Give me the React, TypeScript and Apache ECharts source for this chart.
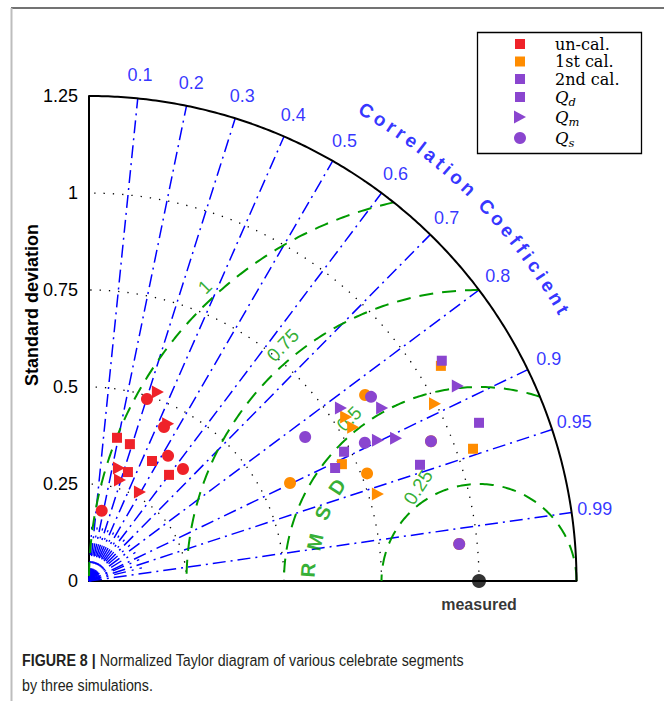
import React, { useEffect, useRef } from "react";
import * as echarts from "echarts";

const W = 664;
const H = 701;

// ---- data: [normalized standard deviation, correlation coefficient] ----
const unCalQd = [[0.376, 0.191], [0.368, 0.285], [0.349, 0.463], [0.342, 0.6], [0.298, 0.335]];
const unCalQm = [[0.518, 0.341], [0.453, 0.448], [0.301, 0.255], [0.272, 0.292], [0.264, 0.495]];
const unCalQs = [[0.184, 0.177], [0.492, 0.302], [0.441, 0.436], [0.381, 0.532], [0.376, 0.641]];
const cal1Qd = [[1.059, 0.852], [1.042, 0.945], [0.715, 0.907]];
const cal1Qm = [[0.998, 0.889], [0.783, 0.842], [0.785, 0.863], [0.774, 0.957]];
const cal1Qs = [[0.855, 0.828], [0.765, 0.932], [0.574, 0.898], [0.948, 0.925], [0.954, 0.995]];
const cal2Qd = [[1.068, 0.847], [1.08, 0.926], [0.734, 0.891], [0.695, 0.908], [0.9, 0.943]];
const cal2Qm = [[1.071, 0.883], [0.785, 0.823], [0.874, 0.86], [0.825, 0.898], [0.869, 0.906]];
const cal2Qs = [[0.865, 0.836], [0.667, 0.831], [0.792, 0.893], [0.948, 0.925], [0.954, 0.995]];
const measured = [1.0, 1.0];

const corrTicks = [0.1, 0.2, 0.3, 0.4, 0.5, 0.6, 0.7, 0.8, 0.9, 0.95, 0.99];
const corrMinor = [0.05, 0.15, 0.25, 0.35, 0.45, 0.55, 0.65, 0.75, 0.85, 0.92, 0.97];
const stdArcs = [0.25, 0.5, 0.75, 1.0];
const rmsdArcs = [0.25, 0.5, 0.75, 1.0];
const rmsdLabels = ["0.25", "0.5", "0.75", "1"];
const legendNames = ["un-cal.", "1st cal.", "2nd cal.", "Q|d", "Q|m", "Q|s"];
const corrTitle = "Correlation Coefficient";
const stdMax = 1.25;

const RED = "#ef2229";
const ORANGE = "#ff8c00";
const PURPLE = "#8a45cf";
const BLUE = "#0000ff";
const GREEN = "#009a00";
const TRI = "path://M0,0L10,6L0,12Z";
const SANS = '"Liberation Sans", Arial, sans-serif';

const toXY = (p: number[]) => [p[0] * p[1], p[0] * Math.sqrt(Math.max(0, 1 - p[1] * p[1]))];

function arc(cx: number, cy: number, r: number, a0: number, a1: number, n = 160) {
  const pts: number[][] = [];
  for (let i = 0; i <= n; i++) {
    const a = a0 + ((a1 - a0) * i) / n;
    pts.push([cx + r * Math.cos(a), cy + r * Math.sin(a)]);
  }
  return pts;
}

export default function App() {
  const ref = useRef<HTMLDivElement>(null);
  useEffect(() => {
    const chart = echarts.init(ref.current!, undefined, { renderer: "svg", width: W, height: H });
    const series: any[] = [];
    const lineBase = { type: "line", showSymbol: false, symbol: "none", silent: true, clip: false, animation: false };

    // std dotted arcs
    stdArcs.forEach((r) => {
      series.push({ ...lineBase, z: 1, data: arc(0, 0, r, 0, Math.PI / 2), lineStyle: { color: "#000", width: 1.3, type: [1.3, 8] } });
    });
    // correlation lines
    corrTicks.forEach((c) => {
      series.push({ ...lineBase, z: 2, data: [[0, 0], toXY([stdMax, c])], lineStyle: { color: BLUE, width: 1.5, type: [13, 5, 2, 5] } });
    });
    corrMinor.forEach((c) => {
      series.push({ ...lineBase, z: 2, data: [[0, 0], toXY([0.14, c])], lineStyle: { color: BLUE, width: 1.3, type: [12, 6, 2, 6] } });
    });
    // RMSD arcs centred on measured point
    rmsdArcs.forEach((r) => {
      const c = (stdMax * stdMax - 1 - r * r) / (2 * r);
      const a0 = c >= 1 ? 0 : Math.acos(Math.max(-1, c));
      series.push({ ...lineBase, z: 3, data: arc(1, 0, r, a0, Math.PI), lineStyle: { color: GREEN, width: 2, type: [14, 9] } });
    });
    // outer arc
    series.push({ ...lineBase, z: 4, data: arc(0, 0, stdMax, 0, Math.PI / 2, 240), lineStyle: { color: "#000", width: 2 } });

    const mk = (name: string, d: number[][], color: string, symbol: string, size: any) => ({
      type: "scatter",
      name,
      z: 10,
      clip: false,
      symbol,
      symbolSize: size,
      itemStyle: { color, opacity: 1 },
      data: d.map(toXY),
    });
    series.push(mk("un-cal Qd", unCalQd, RED, "rect", 10));
    series.push(mk("un-cal Qm", unCalQm, RED, TRI, [12, 13]));
    series.push(mk("un-cal Qs", unCalQs, RED, "circle", 12));
    series.push(mk("1st Qd", cal1Qd, ORANGE, "rect", 10));
    series.push(mk("1st Qm", cal1Qm, ORANGE, TRI, [12, 13]));
    series.push(mk("1st Qs", cal1Qs, ORANGE, "circle", 12));
    series.push(mk("2nd Qd", cal2Qd, PURPLE, "rect", 10));
    series.push(mk("2nd Qm", cal2Qm, PURPLE, TRI, [12, 13]));
    series.push(mk("2nd Qs", cal2Qs, PURPLE, "circle", 12));

    // measured
    series.push({
      type: "scatter",
      z: 12,
      clip: false,
      symbol: "circle",
      symbolSize: 14,
      itemStyle: { color: "#000" },
      label: { show: true, position: "bottom", distance: 8, formatter: "measured", color: "#000", fontSize: 16, fontWeight: "bold", fontFamily: SANS },
      data: [toXY(measured)],
    });

    // correlation tick labels
    series.push({
      type: "scatter",
      z: 6,
      clip: false,
      silent: true,
      symbolSize: 0,
      label: { show: true, position: "inside", formatter: (p: any) => p.name, color: BLUE, fontSize: 18, fontFamily: SANS },
      data: corrTicks.map((c) => ({ name: String(c), value: toXY([1.31, c]) })),
    });

    // RMSD labels
    const rmsdLabelPos = [
      [0.844, 0.242, 57],
      [0.667, 0.418, 45],
      [0.497, 0.608, 46],
      [0.297, 0.758, 45],
    ];
    series.push({
      type: "scatter",
      z: 6,
      clip: false,
      silent: true,
      symbolSize: 0,
      label: { show: true, position: "inside", formatter: (p: any) => p.name, color: GREEN, fontSize: 19, fontFamily: SANS },
      data: rmsdLabels.map((t, i) => ({ name: t, value: [rmsdLabelPos[i][0], rmsdLabelPos[i][1]], label: { rotate: rmsdLabelPos[i][2] } })),
    });
    // R M S D letters
    const rmsdLetters = [
      ["R", 0.5615, 0.0284, 86],
      ["M", 0.5795, 0.1005, 77],
      ["S", 0.6, 0.1753, 67],
      ["D", 0.636, 0.2423, 57],
    ];
    series.push({
      type: "scatter",
      z: 6,
      clip: false,
      silent: true,
      symbolSize: 0,
      label: { show: true, position: "inside", formatter: (p: any) => p.name, color: GREEN, fontSize: 20, fontWeight: "bold", fontFamily: SANS },
      data: rmsdLetters.map((l: any) => ({ name: l[0], value: [l[1], l[2]], label: { rotate: l[3] } })),
    });

    // Correlation Coefficient curved title
    const titleSize = 19;
    const cv = document.createElement("canvas").getContext("2d")!;
    cv.font = `bold ${titleSize}px "Liberation Sans"`;
    const chars = corrTitle.split("");
    const widths = chars.map((ch) => cv.measureText(ch).width);
    const Rpx = 546;
    const th0 = (59.5 * Math.PI) / 180;
    const th1 = (29.8 * Math.PI) / 180;
    const L = Rpx * (th0 - th1);
    const sumW = widths.reduce((a, b) => a + b, 0);
    const sp = (L - (sumW - widths[0] / 2 - widths[widths.length - 1] / 2)) / (chars.length - 1);
    const titleData: any[] = [];
    let acc = 0;
    chars.forEach((ch, i) => {
      const center = acc + widths[i] / 2;
      const off = center - widths[0] / 2;
      acc += widths[i] + sp;
      if (ch === " ") return;
      const th = th0 - off / Rpx;
      titleData.push({
        name: ch,
        value: [(Rpx / 390) * Math.cos(th), (Rpx / 388) * Math.sin(th)],
        label: { rotate: (th * 180) / Math.PI - 90 },
      });
    });
    series.push({
      type: "scatter",
      z: 6,
      clip: false,
      silent: true,
      symbolSize: 0,
      label: { show: true, position: "inside", formatter: (p: any) => p.name, color: BLUE, fontSize: titleSize, fontWeight: "bold", fontFamily: SANS },
      data: titleData,
    });

    // legend (graphic)
    const rows = [44, 61.5, 79, 97, 117, 138];
    const lColors = [RED, ORANGE, PURPLE, PURPLE, PURPLE, PURPLE];
    const lShapes = ["sq", "sq", "sq", "sq", "tri", "cir"];
    const serif = '"DejaVu Serif", "Liberation Serif", serif';
    const capFont = '"Liberation Sans Narrow", "Liberation Sans", Arial';
    const graphics: any[] = [
      { type: "line", shape: { x1: 11, y1: 8, x2: 664, y2: 8 }, style: { stroke: "#444", lineWidth: 1.5 } },
      { type: "line", shape: { x1: 11.5, y1: 8, x2: 11.5, y2: 701 }, style: { stroke: "#bdbdbd", lineWidth: 2 } },
      { type: "rect", shape: { x: 477.5, y: 32.5, width: 164, height: 121 }, style: { fill: "#fff", stroke: "#000", lineWidth: 1.3 }, z: 20 },
      {
        type: "text",
        x: 32,
        y: 305,
        rotation: Math.PI / 2,
        style: { text: "Standard deviation", align: "center", verticalAlign: "middle", fill: "#000", font: 'bold 18px "Liberation Sans", Arial' },
      },
      {
        type: "text",
        x: 22,
        y: 660,
        scaleX: 0.84,
        style: {
          text: "{b|FIGURE 8 |} Normalized Taylor diagram of various celebrate segments",
          verticalAlign: "middle",
          fill: "#231f20",
          fontSize: 17,
          fontFamily: capFont,
          rich: { b: { fontWeight: "bold", fontSize: 17, fontFamily: capFont, fill: "#231f20" } },
        },
      },
      {
        type: "text",
        x: 22,
        y: 685,
        scaleX: 0.84,
        style: { text: "by three simulations.", verticalAlign: "middle", fill: "#231f20", fontSize: 17, fontFamily: capFont },
      },
    ];
    legendNames.forEach((nm, i) => {
      const y = rows[i];
      const c = lColors[i];
      if (lShapes[i] === "sq") graphics.push({ type: "rect", z: 21, shape: { x: 515, y: y - 5, width: 10, height: 10 }, style: { fill: c } });
      else if (lShapes[i] === "tri") graphics.push({ type: "polygon", z: 21, shape: { points: [[514, y - 6.5], [526, y], [514, y + 6.5]] }, style: { fill: c } });
      else graphics.push({ type: "circle", z: 21, shape: { cx: 520, cy: y, r: 6 }, style: { fill: c } });
      const parts = nm.split("|");
      if (parts.length === 1) {
        graphics.push({ type: "text", z: 21, x: 555, y, style: { text: nm, verticalAlign: "middle", lineHeight: 14, fill: "#000", fontSize: 16, fontFamily: serif } });
      } else {
        graphics.push({ type: "text", z: 21, x: 555, y, style: { text: parts[0], verticalAlign: "middle", lineHeight: 14, fill: "#000", fontSize: 16.5, fontStyle: "italic", fontFamily: serif } });
        graphics.push({ type: "text", z: 21, x: 568.5, y: y + 5, style: { text: parts[1], verticalAlign: "middle", lineHeight: 10, fill: "#000", fontSize: 11.5, fontStyle: "italic", fontFamily: serif } });
      }
    });

    const option: any = {
      animation: false,
      backgroundColor: "#fff",
      grid: { left: 89, top: 96, width: 487.5, height: 485, containLabel: false },
      xAxis: {
        type: "value",
        min: 0,
        max: stdMax,
        axisLine: { show: true, onZero: false, lineStyle: { color: "#000", width: 2 } },
        axisTick: { show: false },
        axisLabel: { show: false },
        splitLine: { show: false },
      },
      yAxis: {
        type: "value",
        min: 0,
        max: stdMax,
        interval: 0.25,
        axisLine: { show: true, onZero: false, lineStyle: { color: "#000", width: 2 } },
        axisTick: { show: false },
        axisLabel: { show: true, margin: 11, color: "#000", fontSize: 18, fontFamily: SANS },
        splitLine: { show: false },
      },
      series,
      graphic: graphics,
    };
    chart.setOption(option);
    return () => chart.dispose();
  }, []);
  return <div ref={ref} style={{ position: "absolute", left: 0, top: 0, width: W, height: H, background: "#fff" }} />;
}
